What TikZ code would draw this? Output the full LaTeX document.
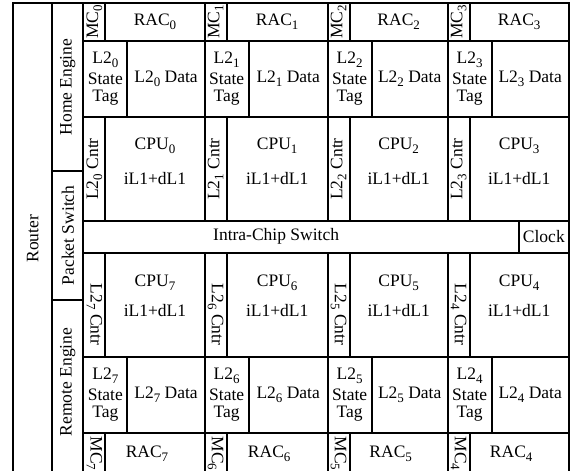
\documentclass[tikz,border=0pt]{standalone}
\usepackage{fontspec}
\setmainfont{Liberation Serif}
\newcommand\fs{\fontsize{17.5}{17}\selectfont}
\newcommand\sbs[1]{\raisebox{-4pt}{\fontsize{13}{13}\selectfont #1}}
\tikzset{
  blk/.style={draw, line width=1.9pt, inner sep=0pt, outer sep=0pt, align=center, font=\fs},
  lbl/.style={inner sep=0pt, font=\fs, anchor=base},
}
% name, x1, y1, x2, y2, text
\newcommand\mkbox[6]{%
  \pgfmathsetmacro\bw{(#4)-(#2)}\pgfmathsetmacro\bh{(#5)-(#3)}%
  \node[blk, minimum width=\bw pt, minimum height=\bh pt] (#1) at ({((#2)+(#4))/2},{((#3)+(#5))/2}) {#6};}
\begin{document}
\begin{tikzpicture}[x=1pt,y=-1pt]
\useasboundingbox (0,0) rectangle (571,471);
% left columns
\mkbox{router}{13.3}{3.3}{52.3}{474}{\rotatebox{90}{Router}}
\mkbox{home}{52.3}{3.3}{83.3}{170.7}{\rotatebox{90}{Home Engine}}
\mkbox{pswitch}{52.3}{170.7}{83.3}{300}{\rotatebox{90}{Packet Switch}}
\mkbox{remote}{52.3}{300}{83.3}{474}{\rotatebox{90}{\hspace{10pt}Remote Engine}}
% top tiles
\foreach \i/\xa/\xb in {0/83.3/204.7, 1/204.7/327.7, 2/327.7/447.7, 3/447.7/568.7}{
  \mkbox{mc\i}{\xa}{3.3}{\xa+22}{40.7}{\rotatebox{90}{MC\sbs{\i}}}
  \mkbox{rac\i}{\xa+22}{3.3}{\xb}{40.7}{RAC\sbs{\i}}
  \mkbox{tag\i}{\xa}{40.7}{\xa+44}{117.3}{L2\sbs{\i}\\[4pt]State\\Tag}
  \mkbox{dat\i}{\xa+44}{40.7}{\xb}{117.3}{L2\sbs{\i} Data}
  \mkbox{cnt\i}{\xa}{117.3}{\xa+22}{220.7}{\rotatebox{90}{L2\sbs{\i} Cntr}}
  \mkbox{cpu\i}{\xa+22}{117.3}{\xb}{220.7}{}
  \node[lbl] (cpun\i) at ({(\xa+22+\xb)/2},149.3) {CPU\sbs{\i}};
  \node[lbl] (cpul\i) at ({(\xa+22+\xb)/2},184.3) {iL1+dL1};
}
% switch row
\mkbox{ics}{83.3}{220.7}{519}{252.7}{Intra-Chip Switch\hspace{50pt}}
\mkbox{clock}{519}{220.7}{568.7}{252.7}{Clock}
% bottom tiles
\foreach \i/\xa/\xb in {7/83.3/204.7, 6/204.7/327.7, 5/327.7/447.7, 4/447.7/568.7}{
  \mkbox{cnt\i}{\xa}{252.7}{\xa+22}{356.7}{\raisebox{-10pt}[\height][\depth]{\rotatebox{-90}{L2\sbs{\i} Cntr}}}
  \mkbox{cpu\i}{\xa+22}{252.7}{\xb}{356.7}{}
  \node[lbl] (cpun\i) at ({(\xa+22+\xb)/2},286.7) {CPU\sbs{\i}};
  \node[lbl] (cpul\i) at ({(\xa+22+\xb)/2},316) {iL1+dL1};
  \mkbox{tag\i}{\xa}{356.7}{\xa+44}{432.7}{L2\sbs{\i}\\[4pt]State\\Tag}
  \mkbox{dat\i}{\xa+44}{356.7}{\xb}{432.7}{L2\sbs{\i} Data}
  \mkbox{mc\i}{\xa}{432.7}{\xa+22}{474}{\rotatebox{-90}{MC\sbs{\i}}}
  \mkbox{rac\i}{\xa+22}{432.7}{\xb}{474}{RAC\sbs{\i}\hspace{16pt}}
}
\end{tikzpicture}
\end{document}
